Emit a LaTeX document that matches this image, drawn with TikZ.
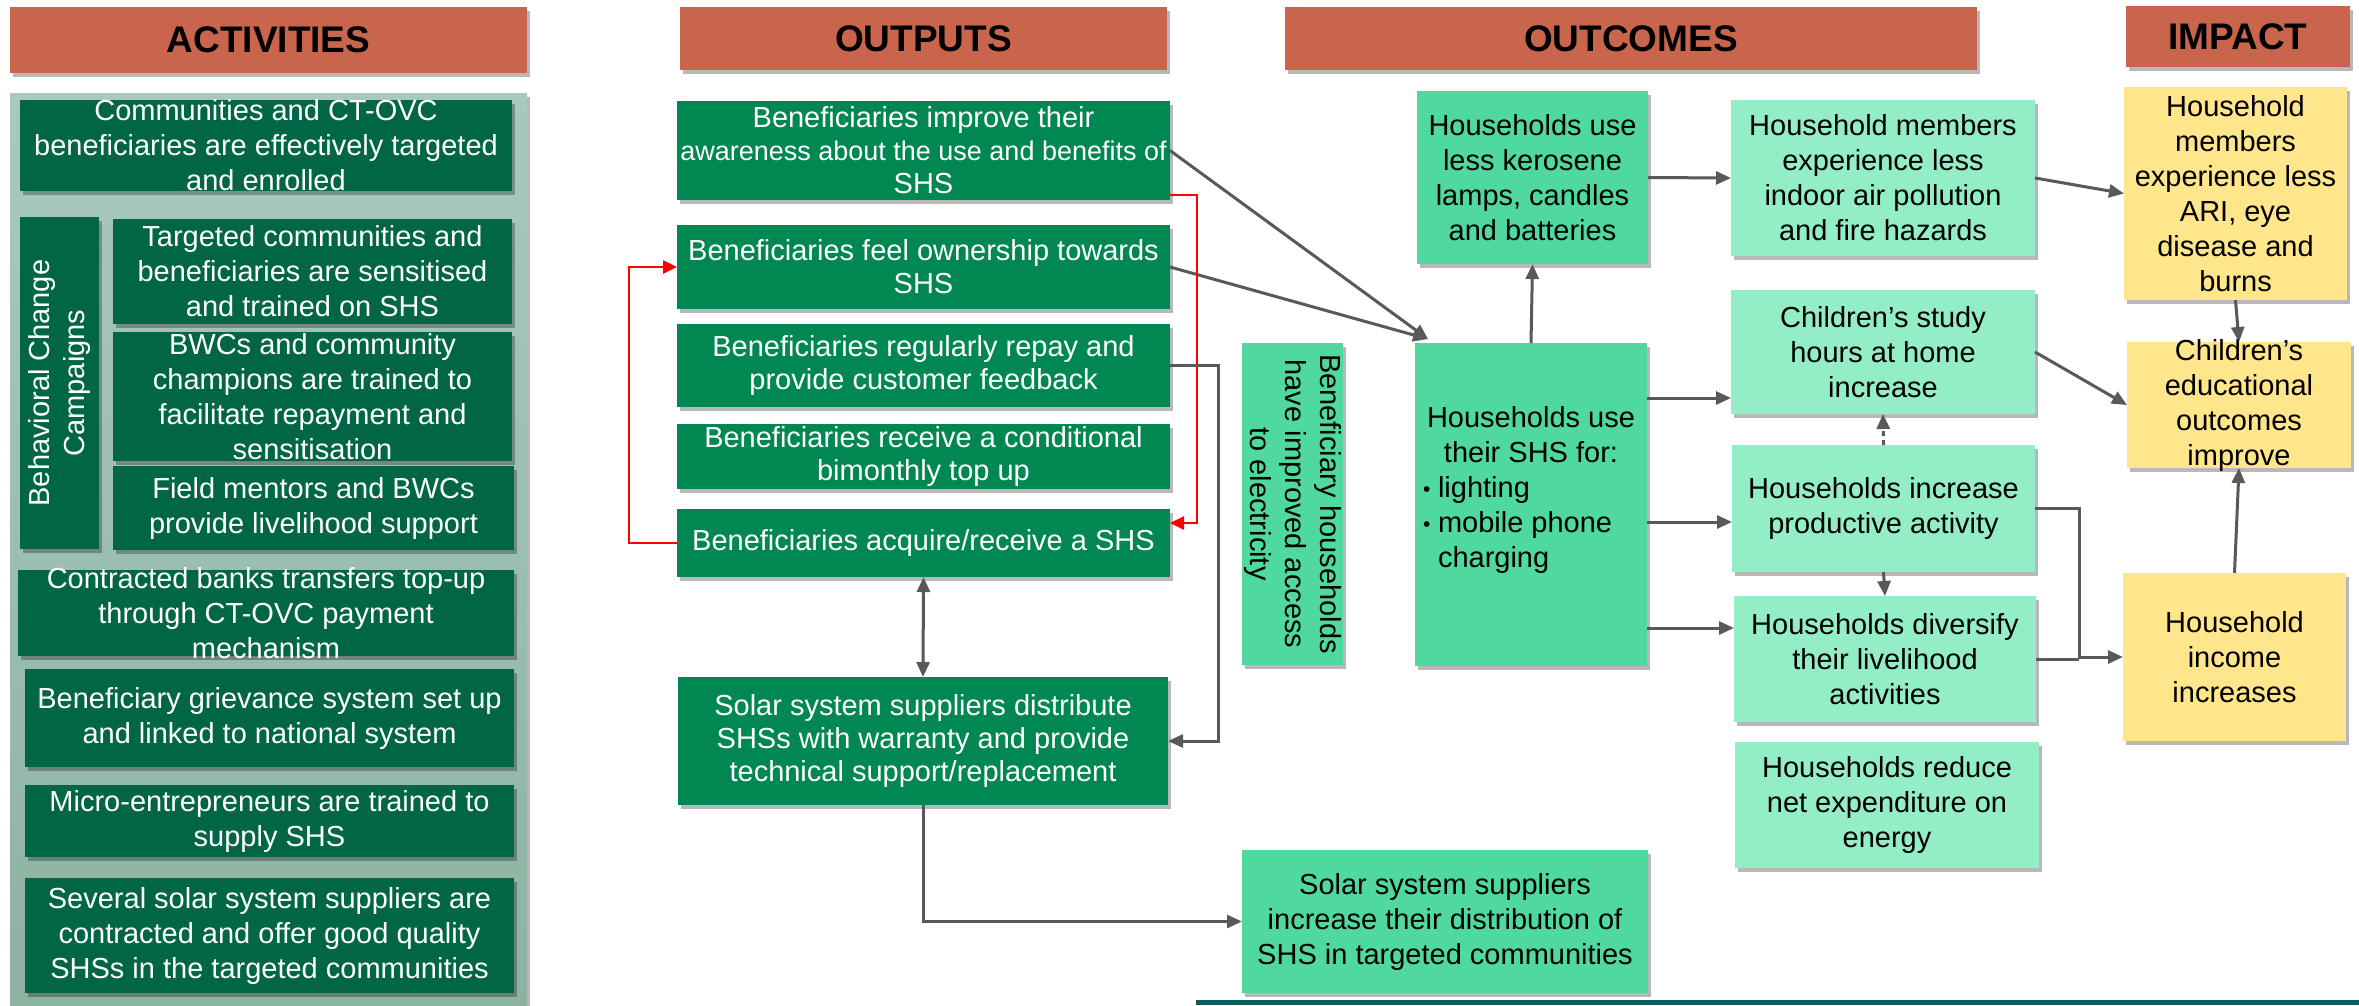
\documentclass[tikz,border=0pt]{standalone}
\usepackage{fontspec}
\setmainfont{Liberation Sans}
\usepackage{graphicx}
\usetikzlibrary{arrows.meta,shadows,calc}

\definecolor{hdr}{HTML}{C9654C}
\definecolor{panelT}{HTML}{A8CABD}
\definecolor{panelB}{HTML}{8DB2A2}
\definecolor{actg}{HTML}{006645}
\definecolor{outg}{HTML}{008752}
\definecolor{medg}{HTML}{4FD99F}
\definecolor{ltg}{HTML}{93EEC6}
\definecolor{yel}{HTML}{FFE68A}
\definecolor{lnk}{HTML}{595959}
\definecolor{fb}{HTML}{FF0000}
\definecolor{rulec}{HTML}{0D5C5C}

% fixed-size centred text block: outer width, height, content
\newcommand{\tbox}[3]{\parbox[c][#2pt][c]{\dimexpr#1pt-12pt\relax}{\centering #3}}
% small list bullet
\newcommand{\lbul}{\makebox[15pt][l]{\fontsize{21}{21}\selectfont\raisebox{1pt}{\textbullet}}}

\begin{document}
\begin{tikzpicture}[x=1pt,y=-1pt,
  shad/.style={drop shadow={shadow xshift=3pt,shadow yshift=-4pt,opacity=.28,fill=black}},
  box/.style={shad,rectangle,inner xsep=6pt,inner ysep=0pt,outer sep=0pt},
  hdrbox/.style={box,fill=hdr,text=black,font=\fontsize{37}{40}\selectfont\bfseries},
  actbox/.style={box,fill=actg,text=white,font=\fontsize{29}{35}\selectfont},
  outbox/.style={box,fill=outg,text=white,font=\fontsize{29}{33}\selectfont},
  medbox/.style={box,fill=medg,text=black,font=\fontsize{29}{35}\selectfont},
  ltbox/.style={box,fill=ltg,text=black,font=\fontsize{29}{35}\selectfont},
  yelbox/.style={box,fill=yel,text=black,font=\fontsize{29}{35}\selectfont},
  conn/.style={draw=lnk,line width=3pt},
  arr/.style={conn,-{Triangle[length=15pt,width=13pt]}},
  darr/.style={conn,{Triangle[length=15pt,width=13pt]}-{Triangle[length=15pt,width=13pt]}},
  fbarr/.style={draw=fb,line width=2.5pt,-{Triangle[length=14pt,width=13pt]}},
]
\useasboundingbox (0,0) rectangle (2359,1005);
\fill[white] (0,0) rectangle (2359,1005);

% ---------- column headers ----------
\node[hdrbox,minimum width=517pt,minimum height=66pt] (hAct) at (268.5,40) {ACTIVITIES};
\node[hdrbox,minimum width=487pt,minimum height=63pt] (hOut) at (923.5,38.5) {OUTPUTS};
\node[hdrbox,minimum width=692pt,minimum height=63pt] (hOutc) at (1631,38.5) {OUTCOMES};
\node[hdrbox,minimum width=224pt,minimum height=61pt] (hImp) at (2238,36.5) {IMPACT};

% ---------- activities ----------
\path[shad,top color=panelT,bottom color=panelB] (10,93) rectangle (527,1012);

\node[actbox] (a1) at (266,145.5) {\tbox{492}{91}{Communities and CT-OVC\\beneficiaries are effectively targeted\\and enrolled}};
\node[actbox,inner sep=6pt] (bcc) at (59.5,383) {\rotatebox{90}{\parbox[c][67pt][c]{320pt}{\centering Behavioral Change\\Campaigns}}};
\node[actbox] (a2) at (312.5,271.5) {\tbox{399}{105}{Targeted communities and\\beneficiaries are sensitised\\and trained on SHS}};
\node[actbox] (a3) at (312.5,396.5) {\tbox{399}{129}{BWCs and community\\champions are trained to\\facilitate repayment and\\sensitisation}};
\node[actbox] (a4) at (313.5,508) {\tbox{401}{84}{Field mentors and BWCs\\provide livelihood support}};
\node[actbox] (a5) at (266,613) {\tbox{496}{86}{Contracted banks transfers top-up\\through CT-OVC payment\\mechanism}};
\node[actbox] (a6) at (269.5,718) {\tbox{489}{98}{Beneficiary grievance system set up\\and linked to national system}};
\node[actbox] (a7) at (269.5,821) {\tbox{489}{72}{Micro-entrepreneurs are trained to\\supply SHS}};
\node[actbox] (a8) at (269.5,935.5) {\tbox{489}{115}{Several solar system suppliers are\\contracted and offer good quality\\SHSs in the targeted communities}};

% ---------- outputs ----------
\node[outbox] (o1) at (923.5,150.5) {\tbox{493}{99}{Beneficiaries improve their\\\makebox[0pt]{\fontsize{27}{33}\selectfont awareness about the use and benefits of}\\SHS}};
\node[outbox] (o2) at (923.5,267) {\tbox{493}{84}{Beneficiaries feel ownership towards\\SHS}};
\node[outbox] (o3) at (923.5,365.5) {\tbox{493}{83}{Beneficiaries regularly repay and\\provide customer feedback}};
\node[outbox] (o4) at (923.5,456.5) {\tbox{493}{65}{Beneficiaries receive a conditional\\bimonthly top up}};
\node[outbox] (o5) at (923.5,543) {\tbox{493}{68}{Beneficiaries acquire/receive a SHS}};
\node[outbox] (o6) at (923,741) {\tbox{490}{128}{Solar system suppliers distribute\\SHSs with warranty and provide\\technical support/replacement}};

\node[medbox,inner sep=6pt] (access) at (1292.5,504) {\rotatebox{-90}{\parbox[c][89pt][c]{310pt}{\centering Beneficiary households\\have improved access\\to electricity}}};
\node[medbox] (supinc) at (1445,921.5) {\tbox{406}{143}{Solar system suppliers\\increase their distribution of\\SHS in targeted communities}};

% ---------- outcomes ----------
\node[medbox] (kero) at (1532.5,177.5) {\tbox{231}{173}{Households use\\less kerosene\\lamps, candles\\and batteries}};
\node[medbox] (shs) at (1531,504.5) {\parbox[c][323pt][c]{220pt}{\centering Households use\\their SHS for:\par\raggedright
\hspace*{2pt}\lbul lighting\\
\hspace*{2pt}\lbul mobile phone\\
\hspace*{17pt}charging\par\vspace*{30pt}}};

\node[ltbox] (hh) at (1883,178) {\tbox{304}{156}{Household members\\experience less\\indoor air pollution\\and fire hazards}};
\node[ltbox] (ch) at (1883,352) {\tbox{304}{124}{Children’s study\\hours at home\\increase}};
\node[ltbox] (prod) at (1883.5,508.5) {\tbox{303}{127}{Households increase\\productive activity}};
\node[ltbox] (div) at (1885,659) {\tbox{302}{126}{Households diversify\\their livelihood\\activities}};
\node[ltbox] (net) at (1887,805) {\tbox{304}{126}{Households reduce\\net expenditure on\\energy}};

% ---------- impact ----------
\node[yelbox] (ari) at (2235.5,193.5) {\tbox{223}{213}{Household\\members\\experience less\\ARI, eye\\disease and\\burns}};
\node[yelbox] (edu) at (2239,405) {\tbox{224}{126}{Children’s\\educational\\outcomes\\improve}};
\node[yelbox] (inc) at (2234.5,657) {\tbox{223}{168}{Household\\income\\increases}};

% ---------- connectors ----------
\coordinate (conv) at ($(shs.north west)+(13,-4)$);
\draw[arr] (o1.east) -- (conv);
\draw[arr] (o2.east) -- (conv);
\draw[fbarr] ($(o1.south east)+(0,-5)$) -- ++(27,0) |- ($(o5.north east)+(0,14)$);
\draw[fbarr] (o5.west) -- ++(-48,0) |- (o2.west);
\draw[arr] (o3.east) -- ++(48,0) |- (o6.east);
\draw[darr] (o5.south) -- (o6.north);
\draw[arr] (o6.south) |- (supinc.west);

\draw[arr] (shs.north) -- (kero.south);
\draw[arr] (kero.east) -- (hh.west);
\coordinate (chin) at ($(ch.west)+(0,46)$);
\coordinate (prin) at ($(prod.west)+(0,13.5)$);
\coordinate (dvin) at ($(div.west)+(0,-31)$);
\draw[arr] (shs.east |- chin) -- (chin);
\draw[arr] (shs.east |- prin) -- (prin);
\draw[arr] (shs.east |- dvin) -- (dvin);
\draw[arr,dash pattern=on 5pt off 4pt] (prod.north) -- (ch.south);
\draw[arr] (prod.south) -- (div.north);
\coordinate (jn) at ($(prod.east)+(44,0)$);
\draw[arr] (prod.east) -- (jn) |- (inc.west);
\draw[conn] (div.east) -- (div.east -| jn);

\draw[arr] (hh.east) -- (ari.west);
\draw[arr] (ch.east) -- (edu.west);
\draw[arr] (ari.south) -- (edu.north);
\draw[arr] (inc.north) -- (edu.south);

% rule along the lower edge
\draw[rulec,line width=5pt] (1196,1002) -- (2359,1002);
\end{tikzpicture}
\end{document}
